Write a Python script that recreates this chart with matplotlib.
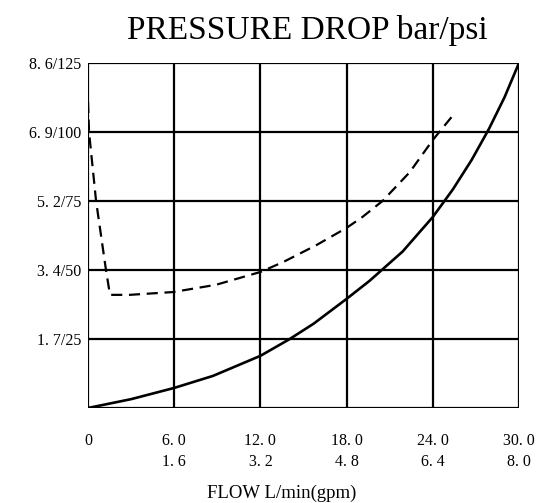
import matplotlib.pyplot as plt
import numpy as np

plt.rcParams['font.family'] = ['Liberation Serif', 'DejaVu Serif']

# flow L/min, pressure bar
solid_x = [0, 3, 6, 8.7, 12, 14.0, 15.7, 18.0, 19.6, 21.9, 24.0, 25.4, 26.7, 27.9, 29.0, 30]
solid_y = [0, 0.22, 0.5, 0.80, 1.30, 1.71, 2.10, 2.72, 3.17, 3.90, 4.76, 5.45, 6.18, 6.95, 7.75, 8.6]

dash_x = [0, 0.07, 0.56, 1.25, 1.53, 2.9, 5.92, 8.9, 12.0, 13.6, 15.9, 18.0, 19.1,
          20.5, 22.4, 24.0, 25.3]
dash_y = [7.63, 6.88, 5.16, 3.44, 2.82, 2.82, 2.89, 3.07, 3.39, 3.64, 4.06, 4.49, 4.76,
          5.16, 5.88, 6.68, 7.25]

x_ticks = [0, 6, 12, 18, 24, 30]
x_labels = ['0', '6. 0\n1. 6', '12. 0\n3. 2', '18. 0\n4. 8', '24. 0\n6. 4', '30. 0\n8. 0']
y_ticks = [8.6 * i / 5 for i in range(1, 6)]
y_labels = ['1. 7/25', '3. 4/50', '5. 2/75', '6. 9/100', '8. 6/125']

fig = plt.figure(figsize=(5.41, 5.03), dpi=100)
ax = fig.add_axes([0.1627, 0.1889, 0.7966, 0.6859])

for xv in x_ticks:
    ax.axvline(xv, color='black', lw=1.6, zorder=1)
for yv in [0] + y_ticks:
    ax.axhline(yv, color='black', lw=1.6, zorder=1)

ax.plot(solid_x, solid_y, color='black', lw=1.9, zorder=3, solid_joinstyle='round')
ax.plot(dash_x, dash_y, color='black', lw=1.6, dashes=(5, 3), zorder=3)

ax.set_xlim(0, 30)
ax.set_ylim(0, 8.6)
for s in ax.spines.values():
    s.set_visible(False)

ax.set_xticks(x_ticks)
ax.set_xticklabels(x_labels, fontsize=11.5, linespacing=1.45, va='top')
ax.set_yticks(y_ticks)
ax.set_yticklabels(y_labels, fontsize=11.5)
ax.tick_params(length=0)
ax.tick_params(axis='x', pad=18)
ax.tick_params(axis='y', pad=5)

fig.text(0.568, 0.94, 'PRESSURE DROP bar/psi', ha='center', va='center', fontsize=24)
fig.text(0.52, 0.02, 'FLOW L/min(gpm)', ha='center', va='center', fontsize=13.5)

fig.savefig('out.png', dpi=100)
